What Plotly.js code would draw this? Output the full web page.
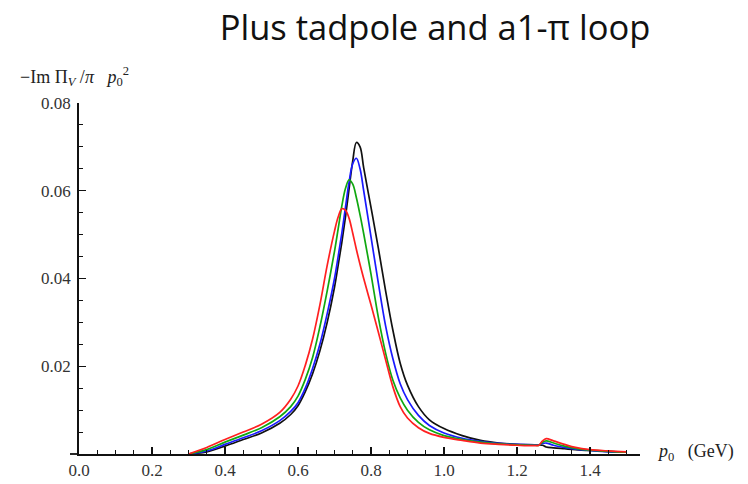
<!DOCTYPE html>
<html>
<head>
<meta charset="utf-8">
<script src="https://cdn.plot.ly/plotly-3.0.1.min.js"></script>
<style>html,body{margin:0;padding:0;background:#fff;}#chart{width:748px;height:484px;}</style>
</head>
<body>
<div id="chart"></div>
<script>
// p0 (GeV) sample points
const p0 = [0.30,0.35,0.40,0.45,0.50,0.55,0.58,0.60,0.62,0.64,0.66,0.68,0.70,0.71,0.72,0.73,0.74,0.75,0.76,0.77,0.78,0.80,0.82,0.84,0.86,0.88,0.90,0.93,0.96,1.00,1.05,1.10,1.15,1.20,1.25,1.26,1.27,1.28,1.30,1.33,1.36,1.40,1.45,1.50];
const blackVals = [0.0000,0.0005,0.0018,0.0033,0.0048,0.0070,0.0090,0.0110,0.0142,0.0183,0.0235,0.0300,0.0380,0.0430,0.0482,0.0540,0.0605,0.0668,0.0710,0.0700,0.0652,0.0562,0.0470,0.0372,0.0282,0.0207,0.0157,0.0108,0.0078,0.0058,0.0042,0.0031,0.0025,0.0022,0.0021,0.0021,0.0020,0.0016,0.0014,0.0012,0.0010,0.0008,0.0006,0.0004];
const blueVals = [0.0000,0.0007,0.0022,0.0037,0.0053,0.0076,0.0097,0.0117,0.0150,0.0195,0.0250,0.0320,0.0400,0.0450,0.0503,0.0562,0.0620,0.0662,0.0674,0.0650,0.0600,0.0495,0.0390,0.0292,0.0217,0.0160,0.0124,0.0088,0.0065,0.0048,0.0036,0.0029,0.0024,0.0022,0.0021,0.0021,0.0024,0.0025,0.0020,0.0015,0.0011,0.0008,0.0005,0.0004];
const greenVals = [0.0000,0.0010,0.0027,0.0043,0.0060,0.0085,0.0108,0.0132,0.0170,0.0220,0.0290,0.0372,0.0462,0.0513,0.0565,0.0605,0.0625,0.0615,0.0584,0.0545,0.0502,0.0410,0.0312,0.0230,0.0168,0.0128,0.0100,0.0072,0.0055,0.0042,0.0033,0.0027,0.0023,0.0021,0.0020,0.0020,0.0027,0.0030,0.0025,0.0018,0.0013,0.0009,0.0006,0.0004];
const redVals = [0.0000,0.0015,0.0033,0.0050,0.0068,0.0095,0.0125,0.0155,0.0202,0.0262,0.0340,0.0430,0.0508,0.0540,0.0559,0.0556,0.0537,0.0503,0.0466,0.0432,0.0400,0.0340,0.0278,0.0215,0.0153,0.0108,0.0082,0.0060,0.0047,0.0038,0.0031,0.0025,0.0022,0.0020,0.0019,0.0020,0.0030,0.0035,0.0030,0.0022,0.0015,0.0010,0.0007,0.0005];

const xTickVals = [0.0,0.2,0.4,0.6,0.8,1.0,1.2,1.4];
const xTickText = ['0.0','0.2','0.4','0.6','0.8','1.0','1.2','1.4'];
const yTickVals = [0,0.02,0.04,0.06,0.08];
const yTickText = ['','0.02','0.04','0.06','0.08'];

const series = [
  {y: blackVals, color: '#111111'},
  {y: blueVals, color: '#1a1aff'},
  {y: greenVals, color: '#10a810'},
  {y: redVals, color: '#ff2020'}
];
const traces = series.map(s => ({
  x: p0, y: s.y, type: 'scatter', mode: 'lines',
  line: {color: s.color, width: 1.7, shape: 'spline', smoothing: 1},
  hoverinfo: 'skip', showlegend: false
}));

const serif = 'Liberation Serif, DejaVu Serif, serif';
const W = 748, H = 484, L = 79, R = 108, T = 103, B = 30;
const pw = W - L - R, ph = H - T - B;

const layout = {
  width: W, height: H,
  margin: {l: L, r: R, t: T, b: B, pad: 0},
  paper_bgcolor: '#fff', plot_bgcolor: '#fff',
  showlegend: false,
  title: {
    text: 'Plus tadpole and a1-π loop',
    font: {family: 'Open Sans, sans-serif', size: 34.5, color: '#111'},
    xref: 'container', yref: 'container',
    x: 435 / W, xanchor: 'center', y: 1 - 28 / H, yanchor: 'middle'
  },
  xaxis: {
    range: [0, 1.537], showgrid: false, zeroline: false,
    showline: true, linecolor: '#111', linewidth: 1.8,
    tickmode: 'array', tickvals: xTickVals, ticktext: xTickText,
    ticks: 'inside', ticklen: 7, tickwidth: 1.4, tickcolor: '#111',
    tickfont: {family: serif, size: 17, color: '#333'},
    minor: {dtick: 0.05, tick0: 0, ticks: 'inside', ticklen: 4, tickwidth: 1.1, tickcolor: '#111', showgrid: false}
  },
  yaxis: {
    range: [0, 0.08], showgrid: false, zeroline: false,
    showline: true, linecolor: '#111', linewidth: 1.8,
    tickmode: 'array', tickvals: yTickVals, ticktext: yTickText,
    ticks: 'inside', ticklen: 7, tickwidth: 1.4, tickcolor: '#111',
    ticklabelstandoff: 3,
    tickfont: {family: serif, size: 17, color: '#333'},
    minor: {dtick: 0.005, tick0: 0, ticks: 'inside', ticklen: 4, tickwidth: 1.1, tickcolor: '#111', showgrid: false}
  },
  shapes: [
    {type: 'line', xref: 'paper', yref: 'paper', x0: -9 / pw, x1: 0, y0: 0, y1: 0,
     line: {color: '#111', width: 1.8}}
  ],
  annotations: [
    {text: '−Im Π<sub><i>V</i></sub> /<i>π</i>   <i>p</i><sub>0</sub><sup>2</sup>',
     xref: 'paper', yref: 'paper', x: (18 - L) / pw, y: (H - B - 77) / ph,
     xanchor: 'left', yanchor: 'middle', showarrow: false,
     font: {family: serif, size: 18, color: '#222'}},
    {text: '<i>p</i><sub>0</sub>   (GeV)',
     xref: 'paper', yref: 'paper', x: (655 - L) / pw, y: (H - B - 452) / ph,
     xanchor: 'left', yanchor: 'middle', showarrow: false,
     font: {family: serif, size: 18, color: '#222'}}
  ]
};

Plotly.newPlot('chart', traces, layout, {displayModeBar: false, staticPlot: true});
</script>
</body>
</html>
